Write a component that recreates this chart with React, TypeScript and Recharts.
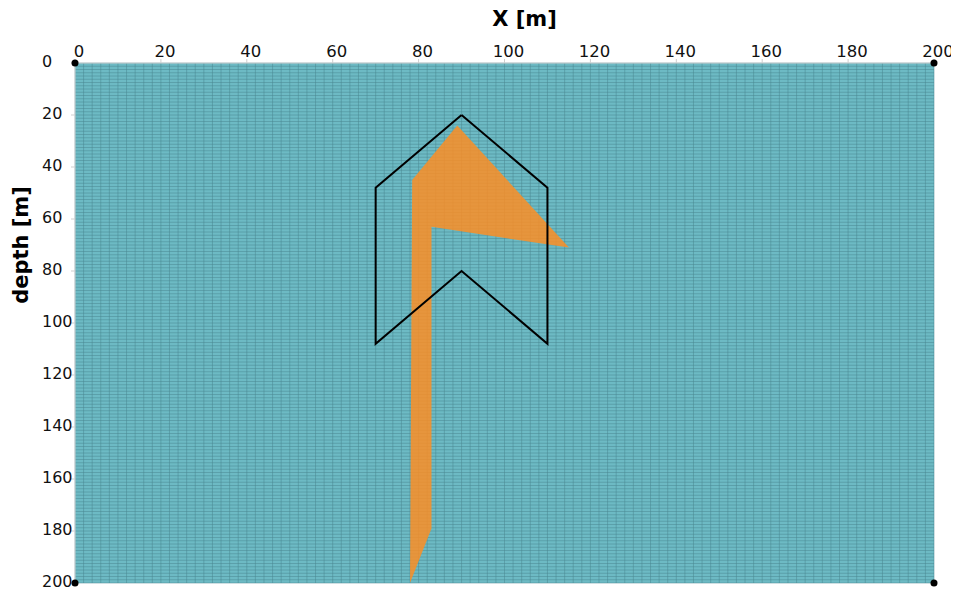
import { ComposedChart, Scatter, XAxis, YAxis, CartesianGrid } from "recharts"

// axis ticks (metres)
const xTicks = [0, 20, 40, 60, 80, 100, 120, 140, 160, 180, 200]
const depthTicks = [0, 20, 40, 60, 80, 100, 120, 140, 160, 180, 200]

// mesh: 100 columns x 160 rows over the 200 m x 200 m model
const meshX = Array.from({ length: 101 }, (_, i) => i * 2)
const meshZ = Array.from({ length: 161 }, (_, i) => i * 1.25)

// orange anomaly body (x, depth)
const anomalyX = [78, 78.5, 89, 115, 83, 83, 78]
const anomalyZ = [200, 45, 24, 71, 63, 179, 200]

// black outline block (x, depth), closed
const blockX = [90, 70, 70, 90, 110, 110, 90]
const blockZ = [20, 48, 108, 80, 108, 48, 20]

// model corners
const cornerX = [0, 200, 0, 200]
const cornerZ = [0, 0, 200, 200]

const toPoints = (xs: number[], zs: number[]) => xs.map((x, i) => ({ x, z: zs[i] }))

const anomalyData = toPoints(anomalyX, anomalyZ)
const blockData = toPoints(blockX, blockZ)
const cornerData = toPoints(cornerX, cornerZ)

const FONT = "'DejaVu Sans', sans-serif"

// recharts hands the axis scale to the grid generators; its shape differs between versions
const mapWith = (axis: any, values: number[], start: number, size: number) => {
  const s = axis && axis.scale
  if (typeof s === "function") return values.map((v) => s(v))
  if (s && typeof s.map === "function") return values.map((v) => s.map(v))
  if (s && typeof s.apply === "function") return values.map((v) => s.apply(v))
  return values.map((v) => start + (v / 200) * size)
}

const NoDot = () => <g />

const Dot = ({ cx, cy }: any) => <circle cx={cx} cy={cy} r={3.5} fill="#000" />

const XTick = ({ x, y, payload }: any) => (
  <text x={x + 4} y={y} textAnchor="middle" fontFamily={FONT} fontSize={16.5} fill="#111">
    {payload.value}
  </text>
)

const YTick = ({ x, y, payload }: any) => (
  <text x={x - 27} y={y - 2} dy="0.35em" textAnchor="start" fontFamily={FONT} fontSize={16} fill="#111">
    {payload.value}
  </text>
)

const DepthLabel = ({ viewBox }: any) => {
  const cx = viewBox.x + 3
  const cy = viewBox.y + viewBox.height / 2 - 78
  return (
    <text
      x={cx}
      y={cy}
      transform={`rotate(-90, ${cx}, ${cy})`}
      textAnchor="middle"
      fontFamily={FONT}
      fontWeight="bold"
      fontSize={21}
      fill="#000"
    >
      depth [m]
    </text>
  )
}

export default function App() {
  return (
    <ComposedChart width={951} height={584} margin={{ top: 25, right: 25, bottom: 9, left: 17 }}>
      <CartesianGrid
        verticalCoordinatesGenerator={({ xAxis, offset }: any) =>
          mapWith(xAxis, meshX, offset.left, offset.width)
        }
        horizontalCoordinatesGenerator={({ yAxis, offset }: any) =>
          mapWith(yAxis, meshZ, offset.top, offset.height)
        }
        fill="#6dbac4"
        fillOpacity={1}
        stroke="#4a8892"
        strokeOpacity={0.75}
        strokeWidth={0.7}
      />
      <XAxis
        type="number"
        dataKey="x"
        orientation="top"
        domain={[0, 200]}
        ticks={xTicks}
        height={30}
        tick={<XTick />}
        tickSize={4}
        axisLine={{ stroke: "#d8d8d8" }}
        tickLine={{ stroke: "#cfcfcf" }}
        label={{
          value: "X [m]",
          position: "top",
          offset: 7,
          dx: 20,
          style: { fontFamily: FONT, fontWeight: "bold", fontSize: 21, fill: "#000" },
        }}
      />
      <YAxis
        type="number"
        dataKey="z"
        reversed
        domain={[0, 200]}
        ticks={depthTicks}
        width={50}
        tick={<YTick />}
        tickSize={4}
        axisLine={{ stroke: "#d8d8d8" }}
        tickLine={{ stroke: "#cfcfcf" }}
        label={<DepthLabel />}
      />
      <Scatter
        name="anomaly"
        data={anomalyData}
        shape={<NoDot />}
        line={{ fill: "#fe8e22", fillOpacity: 0.84, stroke: "none" }}
        lineJointType="linear"
        isAnimationActive={false}
      />
      <Scatter
        name="block"
        data={blockData}
        shape={<NoDot />}
        line={{ fill: "none", stroke: "#000", strokeWidth: 2, strokeLinejoin: "miter" }}
        lineJointType="linear"
        isAnimationActive={false}
      />
      <Scatter name="corners" data={cornerData} shape={<Dot />} isAnimationActive={false} />
    </ComposedChart>
  )
}
